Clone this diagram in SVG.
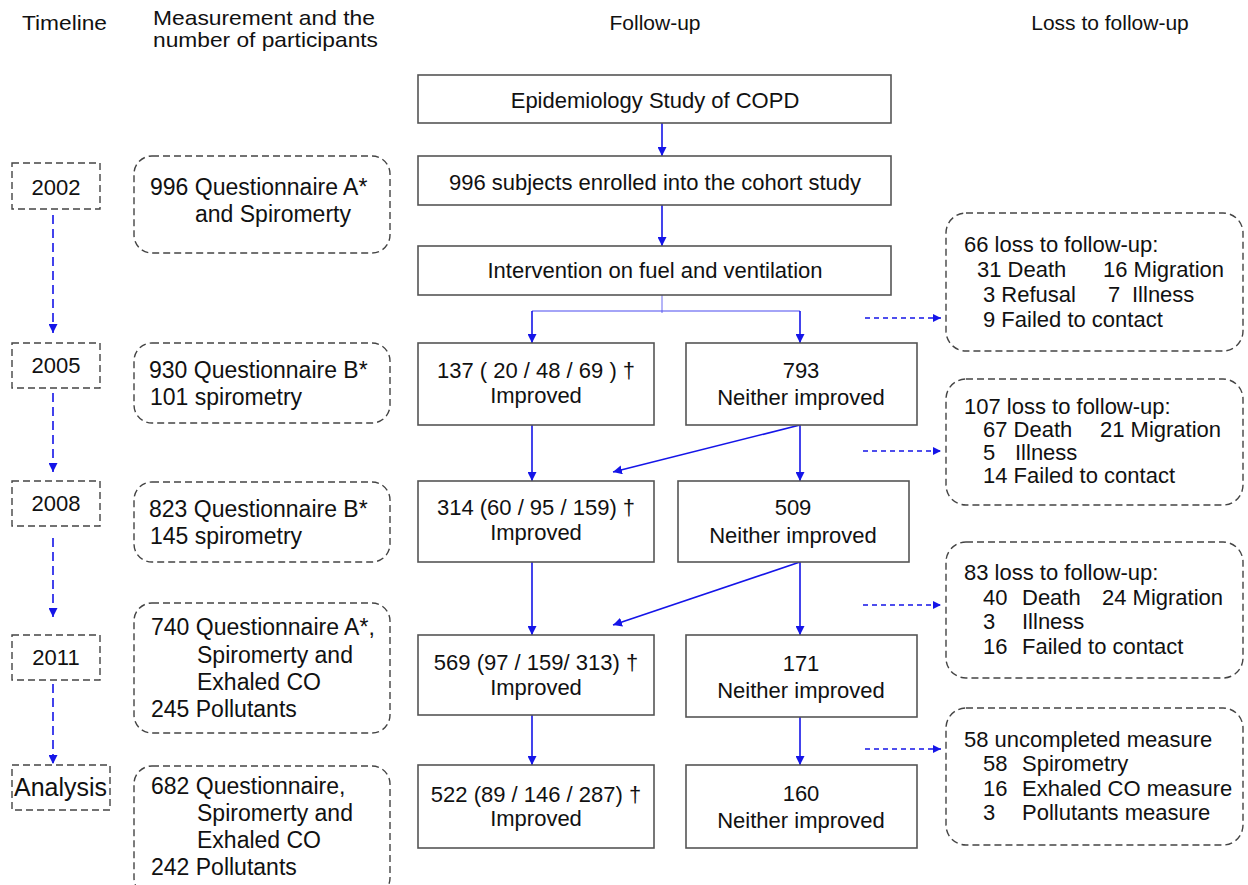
<svg xmlns="http://www.w3.org/2000/svg" width="1248" height="885" viewBox="0 0 1248 885">
<defs>
<marker id="ah" viewBox="0 0 10 10" refX="10" refY="5" markerWidth="9" markerHeight="9" markerUnits="userSpaceOnUse" orient="auto">
<path d="M0,0 L10,5 L0,10 z" fill="#1515e8"/>
</marker>
<marker id="ahs" viewBox="0 0 10 10" refX="10" refY="5" markerWidth="8" markerHeight="8" markerUnits="userSpaceOnUse" orient="auto">
<path d="M0,0 L10,5 L0,10 z" fill="#1515e8"/>
</marker>
</defs>
<style>
text{font-family:"Liberation Sans",Arial,sans-serif;fill:#111;}
.h{font-size:21px;}
.t{font-size:22px;}
.m{font-size:23px;}
.l{font-size:22px;}
.box{fill:#fff;stroke:#555;stroke-width:1.6;}
.tl{fill:#fff;stroke:#444;stroke-width:1.4;stroke-dasharray:7,4;}
.rd{fill:#fff;stroke:#444;stroke-width:1.4;stroke-dasharray:7,4;}
.arr{fill:none;stroke:#1515e8;stroke-width:1.6;marker-end:url(#ah);}
.thin{fill:none;stroke:#6a6af0;stroke-width:1;}
.bar{fill:none;stroke:#4a4af0;stroke-width:1.2;}
.tlarr{fill:none;stroke:#1515e8;stroke-width:1.6;stroke-dasharray:9,5;marker-end:url(#ah);}
.larr{fill:none;stroke:#1515e8;stroke-width:1.5;stroke-dasharray:5,4;marker-end:url(#ahs);}
</style>
<rect width="1248" height="885" fill="#fff"/>

<g id="headers">
<text class="h" x="22" y="30" textLength="85" lengthAdjust="spacingAndGlyphs">Timeline</text>
<text class="h" x="153" y="25" textLength="222" lengthAdjust="spacingAndGlyphs">Measurement and the</text>
<text class="h" x="153" y="47" textLength="225" lengthAdjust="spacingAndGlyphs">number of participants</text>
<text class="h" x="655" y="30" text-anchor="middle">Follow-up</text>
<text class="h" x="1110" y="30" text-anchor="middle">Loss to follow-up</text>
</g>

<g id="connectors">
<line class="arr" x1="662" y1="123" x2="662" y2="156"/>
<line class="arr" x1="662" y1="205" x2="662" y2="246"/>
<polyline class="thin" points="662,295 662,313"/>
<polyline class="bar" points="532,311 800,311"/>
<line class="arr" x1="532" y1="311" x2="532" y2="343"/>
<line class="arr" x1="800" y1="311" x2="800" y2="343"/>
<line class="arr" x1="532" y1="416" x2="532" y2="481"/>
<line class="arr" x1="800" y1="425" x2="800" y2="481"/>
<line class="arr" x1="800" y1="425" x2="613" y2="472"/>
<line class="arr" x1="532" y1="562" x2="532" y2="635"/>
<line class="arr" x1="800" y1="562" x2="800" y2="635"/>
<line class="arr" x1="800" y1="562" x2="613" y2="625"/>
<line class="arr" x1="532" y1="715" x2="532" y2="765"/>
<line class="arr" x1="800" y1="717" x2="800" y2="765"/>
<line class="tlarr" x1="53" y1="215" x2="53" y2="333"/>
<line class="tlarr" x1="53" y1="393" x2="53" y2="472"/>
<line class="tlarr" x1="53" y1="538" x2="53" y2="617"/>
<line class="tlarr" x1="53" y1="684" x2="53" y2="764"/>
<line class="larr" x1="865" y1="318" x2="941" y2="318"/>
<line class="larr" x1="863" y1="451" x2="941" y2="451"/>
<line class="larr" x1="863" y1="605" x2="941" y2="605"/>
<line class="larr" x1="865" y1="749" x2="941" y2="749"/>
</g>

<g id="tl-2002"><rect class="tl" x="12" y="163" width="88" height="46"/><text class="t" x="56" y="195" text-anchor="middle">2002</text></g>
<g id="tl-2005"><rect class="tl" x="12" y="343" width="88" height="45"/><text class="t" x="56" y="373" text-anchor="middle">2005</text></g>
<g id="tl-2008"><rect class="tl" x="12" y="481" width="88" height="45"/><text class="t" x="56" y="511" text-anchor="middle">2008</text></g>
<g id="tl-2011"><rect class="tl" x="12" y="635" width="88" height="45"/><text class="t" x="56" y="665" text-anchor="middle">2011</text></g>
<g id="tl-analysis"><rect class="tl" x="12" y="765" width="98" height="45"/><text x="14" y="796" style="font-size:25px" textLength="93" lengthAdjust="spacingAndGlyphs">Analysis</text></g>

<g id="m-2002"><rect class="rd" x="134" y="156" width="256" height="97" rx="18"/>
<text class="m" x="150" y="195">996 Questionnaire A*</text>
<text class="m" x="195" y="222">and Spiromerty</text></g>
<g id="m-2005"><rect class="rd" x="134" y="343" width="256" height="80" rx="18"/>
<text class="m" x="149" y="378">930 Questionnaire B*</text>
<text class="m" x="150" y="405">101 spirometry</text></g>
<g id="m-2008"><rect class="rd" x="134" y="482" width="256" height="80" rx="18"/>
<text class="m" x="149" y="517">823 Questionnaire B*</text>
<text class="m" x="150" y="544">145 spirometry</text></g>
<g id="m-2011"><rect class="rd" x="134" y="603" width="256" height="130" rx="18"/>
<text class="m" x="151" y="635">740 Questionnaire A*,</text>
<text class="m" x="197" y="663">Spiromerty and</text>
<text class="m" x="197" y="690">Exhaled CO</text>
<text class="m" x="151" y="717">245 Pollutants</text></g>
<g id="m-analysis"><rect class="rd" x="134" y="766" width="256" height="130" rx="18"/>
<text class="m" x="151" y="794">682 Questionnaire,</text>
<text class="m" x="197" y="821">Spiromerty and</text>
<text class="m" x="197" y="848">Exhaled CO</text>
<text class="m" x="151" y="875">242 Pollutants</text></g>

<g id="n-copd"><rect class="box" x="418" y="75" width="473" height="48"/><text class="t" x="655" y="108" text-anchor="middle">Epidemiology Study of COPD</text></g>
<g id="n-enrolled"><rect class="box" x="418" y="156" width="473" height="49"/><text class="t" x="655" y="190" text-anchor="middle">996 subjects enrolled into the cohort study</text></g>
<g id="n-intervention"><rect class="box" x="418" y="246" width="473" height="49"/><text class="t" x="655" y="278" text-anchor="middle">Intervention on fuel and ventilation</text></g>

<g id="n-137"><rect class="box" x="418" y="343" width="236" height="82"/>
<text class="t" x="536" y="378" text-anchor="middle">137 ( 20 / 48 / 69 ) †</text>
<text class="t" x="536" y="403" text-anchor="middle">Improved</text></g>
<g id="n-793"><rect class="box" x="686" y="343" width="231" height="82"/>
<text class="t" x="801" y="378" text-anchor="middle">793</text>
<text class="t" x="801" y="405" text-anchor="middle">Neither improved</text></g>
<g id="n-314"><rect class="box" x="418" y="481" width="236" height="81"/>
<text class="t" x="536" y="515" text-anchor="middle">314 (60 / 95 / 159) †</text>
<text class="t" x="536" y="540" text-anchor="middle">Improved</text></g>
<g id="n-509"><rect class="box" x="678" y="481" width="231" height="81"/>
<text class="t" x="793" y="515" text-anchor="middle">509</text>
<text class="t" x="793" y="543" text-anchor="middle">Neither improved</text></g>
<g id="n-569"><rect class="box" x="418" y="635" width="236" height="80"/>
<text class="t" x="536" y="670" text-anchor="middle">569 (97 / 159/ 313) †</text>
<text class="t" x="536" y="695" text-anchor="middle">Improved</text></g>
<g id="n-171"><rect class="box" x="686" y="635" width="231" height="82"/>
<text class="t" x="801" y="671" text-anchor="middle">171</text>
<text class="t" x="801" y="698" text-anchor="middle">Neither improved</text></g>
<g id="n-522"><rect class="box" x="418" y="765" width="236" height="83"/>
<text class="t" x="536" y="802" text-anchor="middle">522 (89 / 146 / 287) †</text>
<text class="t" x="536" y="826" text-anchor="middle">Improved</text></g>
<g id="n-160"><rect class="box" x="686" y="765" width="231" height="83"/>
<text class="t" x="801" y="801" text-anchor="middle">160</text>
<text class="t" x="801" y="828" text-anchor="middle">Neither improved</text></g>

<g id="loss-2005"><rect class="rd" x="946" y="213" width="297" height="138" rx="20"/>
<text class="l" x="964" y="252">66 loss to follow-up:</text>
<text class="l" x="977" y="277">31 Death</text><text class="l" x="1103" y="277">16 Migration</text>
<text class="l" x="983" y="302">3 Refusal</text><text class="l" x="1108" y="302">7</text><text class="l" x="1132" y="302">Illness</text>
<text class="l" x="983" y="327">9 Failed to contact</text></g>
<g id="loss-2008"><rect class="rd" x="946" y="379" width="297" height="126" rx="20"/>
<text class="l" x="964" y="414">107 loss to follow-up:</text>
<text class="l" x="983" y="437">67 Death</text><text class="l" x="1100" y="437">21 Migration</text>
<text class="l" x="983" y="460">5</text><text class="l" x="1015" y="460">Illness</text>
<text class="l" x="983" y="483">14 Failed to contact</text></g>
<g id="loss-2011"><rect class="rd" x="946" y="542" width="297" height="136" rx="20"/>
<text class="l" x="964" y="580">83 loss to follow-up:</text>
<text class="l" x="983" y="605">40</text><text class="l" x="1022" y="605">Death</text><text class="l" x="1102" y="605">24 Migration</text>
<text class="l" x="983" y="629">3</text><text class="l" x="1022" y="629">Illness</text>
<text class="l" x="983" y="654">16</text><text class="l" x="1022" y="654">Failed to contact</text></g>
<g id="loss-analysis"><rect class="rd" x="946" y="708" width="297" height="137" rx="20"/>
<text class="l" x="964" y="747">58 uncompleted measure</text>
<text class="l" x="983" y="771">58</text><text class="l" x="1022" y="771">Spirometry</text>
<text class="l" x="983" y="796">16</text><text class="l" x="1022" y="796">Exhaled CO measure</text>
<text class="l" x="983" y="820">3</text><text class="l" x="1022" y="820">Pollutants measure</text></g>
</svg>
